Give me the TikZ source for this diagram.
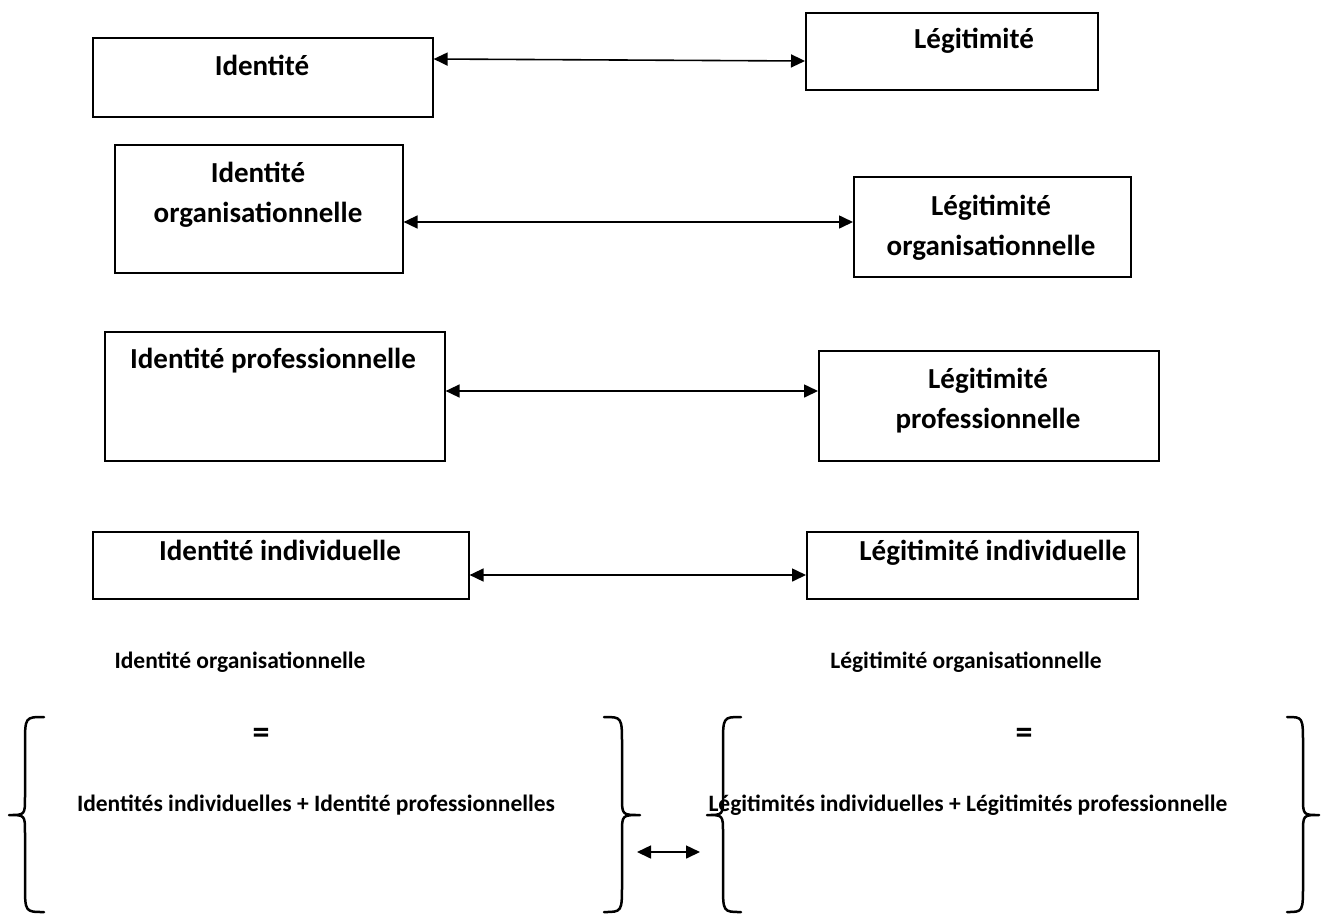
\documentclass[tikz,border=0pt]{standalone}
\usepackage{fontspec}
\setmainfont{Carlito}
\usetikzlibrary{arrows.meta}
\begin{document}
\begin{tikzpicture}[x=1pt,y=-1pt,
  box/.style={draw, line width=1.6pt, inner sep=0pt, anchor=north west},
  txt/.style={font=\fontsize{29}{35}\selectfont\bfseries, anchor=base, inner sep=0pt},
  small/.style={font=\fontsize{23.5}{28}\selectfont\bfseries, anchor=base, inner sep=0pt},
  eqs/.style={font=\fontsize{34}{40}\selectfont\bfseries, anchor=base, inner sep=0pt},
  link/.style={line width=1.6pt, {Triangle[length=14pt,width=13pt]}-{Triangle[length=14pt,width=13pt]}},
  brace/.style={line width=2.5pt, line cap=round, line join=round}]
\useasboundingbox (0,0) rectangle (1327,914);
% boxes
\node[box, minimum width=340pt, minimum height=79pt] (b1) at (92,37) {};
\node[box, minimum width=292pt, minimum height=77pt] (b2) at (805,12) {};
\node[box, minimum width=288pt, minimum height=128pt] (b3) at (114,144) {};
\node[box, minimum width=277pt, minimum height=100pt] (b4) at (853,176) {};
\node[box, minimum width=340pt, minimum height=129pt] (b5) at (104,331) {};
\node[box, minimum width=340pt, minimum height=110pt] (b6) at (818,350) {};
\node[box, minimum width=376pt, minimum height=67pt] (b7) at (92,531) {};
\node[box, minimum width=331pt, minimum height=67pt] (b8) at (806,531) {};
% box texts
\node[txt] (t1) at (262,75) {Identité};
\node[txt] (t2) at (974,48) {Légitimité};
\node[txt] (t3a) at (258,182) {Identité};
\node[txt] (t3b) at (258,222) {organisationnelle};
\node[txt] (t4a) at (991,215) {Légitimité};
\node[txt] (t4b) at (991,255) {organisationnelle};
\node[txt] (t5) at (273,368) {Identité professionnelle};
\node[txt] (t6a) at (988,388) {Légitimité};
\node[txt] (t6b) at (988,428) {professionnelle};
\node[txt] (t7) at (280,560) {Identité individuelle};
\node[txt] (t8) at (993,560) {Légitimité individuelle};
% connectors
\draw[link] (b1.east |- 0,59) -- (b2.west |- 0,61);
\draw[link] (b3.east |- 0,222) -- (b4.west |- 0,222);
\draw[link] (b5.east |- 0,391) -- (b6.west |- 0,391);
\draw[link] (b7.east |- 0,575) -- (b8.west |- 0,575);
% lower labels
\node[small] (l1) at (240,668) {Identité organisationnelle};
\node[small] (l2) at (966,668) {Légitimité organisationnelle};
% braces
\draw[brace] (44,717) .. controls (25,717) .. (25,745) -- (25,797) .. controls (25,815) .. (9,815)
  .. controls (25,815) .. (25,833) -- (25,884) .. controls (25,912) .. (44,912);
\draw[brace] (604,717) .. controls (622,717) .. (622,745) -- (622,797) .. controls (622,815) .. (640,815)
  .. controls (622,815) .. (622,833) -- (622,884) .. controls (622,912) .. (604,912);
\draw[brace] (741,717) .. controls (723,717) .. (723,745) -- (723,797) .. controls (723,815) .. (707,815)
  .. controls (723,815) .. (723,833) -- (723,884) .. controls (723,912) .. (741,912);
\draw[brace] (1287,717) .. controls (1303,717) .. (1303,745) -- (1303,797) .. controls (1303,815) .. (1319,815)
  .. controls (1303,815) .. (1303,833) -- (1303,884) .. controls (1303,912) .. (1287,912);
\node[eqs] (eq1) at (261,743) {=};
\node[eqs] (eq2) at (1024,743) {=};
\node[small] (s1) at (316,811) {Identités individuelles + Identité professionnelles};
\node[small] (s2) at (968,811) {Légitimités individuelles + Légitimités professionnelle};
\coordinate (a1) at (637,852);
\coordinate (a2) at (700,852);
\draw[link] (a1) -- (a2);
\end{tikzpicture}
\end{document}
